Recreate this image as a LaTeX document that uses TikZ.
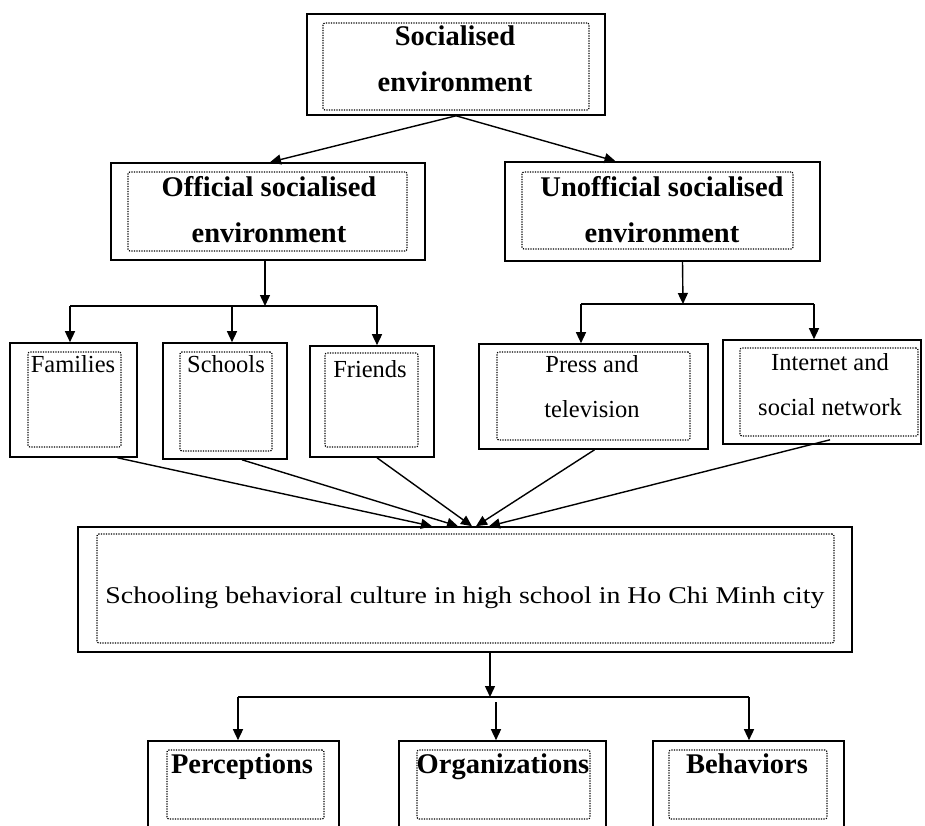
\documentclass[tikz,border=0pt]{standalone}
\usepackage{fontspec}
\setmainfont{Liberation Serif}
\newfontfamily\widefont[FakeStretch=1.16]{Liberation Serif}
\usetikzlibrary{arrows.meta}

\tikzset{
  box/.style={draw, line width=1.6pt, inner sep=0pt},
  frame/.style={draw, line width=1.2pt, dash pattern=on 1.2pt off 1.3pt, rounded corners=2pt, inner sep=0pt},
  headtxt/.style={font=\fontsize{28.5}{46}\selectfont\bfseries, align=center, anchor=base, inner sep=0pt},
  leaftxt/.style={font=\fontsize{24.5}{45}\selectfont, align=center, anchor=base, inner sep=0pt},
  arr/.style={line width=1.4pt, -{Triangle[length=11pt,width=10pt]}},
  link/.style={line width=1.4pt},
}

\begin{document}
\begin{tikzpicture}[x=1pt,y=1pt,yscale=-1]
\clip (0,0) rectangle (925,826);

% outer boxes
\node[box, minimum width=298, minimum height=101] (soc) at (456,64.5) {};
\node[box, minimum width=314, minimum height=97] (off) at (268,211.5) {};
\node[box, minimum width=315, minimum height=99] (unoff) at (662.5,211.5) {};
\node[box, minimum width=127, minimum height=114] (fam) at (73.5,400) {};
\node[box, minimum width=124, minimum height=116] (sch) at (225,401) {};
\node[box, minimum width=124, minimum height=111] (fri) at (372,401.5) {};
\node[box, minimum width=229, minimum height=105] (press) at (593.5,396.5) {};
\node[box, minimum width=198, minimum height=104] (inet) at (822,392) {};
\node[box, minimum width=774, minimum height=125] (sbc) at (465,589.5) {};
\node[box, minimum width=191, minimum height=119] (perc) at (243.5,800.5) {};
\node[box, minimum width=207, minimum height=119] (org) at (502.5,800.5) {};
\node[box, minimum width=191, minimum height=119] (beh) at (748.5,800.5) {};

% dotted frames
\node[frame, minimum width=266, minimum height=87] (soc-in) at (456,66.5) {};
\node[frame, minimum width=279, minimum height=79] (off-in) at (267.5,211.5) {};
\node[frame, minimum width=271, minimum height=77] (unoff-in) at (657.5,210.5) {};
\node[frame, minimum width=93, minimum height=95] (fam-in) at (74.5,399.5) {};
\node[frame, minimum width=92, minimum height=99] (sch-in) at (226,401.5) {};
\node[frame, minimum width=93, minimum height=94] (fri-in) at (371.5,400) {};
\node[frame, minimum width=193, minimum height=88] (press-in) at (593.5,396) {};
\node[frame, minimum width=178, minimum height=88] (inet-in) at (829,392) {};
\node[frame, minimum width=737, minimum height=109] (sbc-in) at (465.5,588.5) {};
\node[frame, minimum width=157, minimum height=69] (perc-in) at (245.5,784.5) {};
\node[frame, minimum width=173, minimum height=69] (org-in) at (503.5,784.5) {};
\node[frame, minimum width=158, minimum height=69] (beh-in) at (748,784.5) {};

% texts (base = last line)
\node[headtxt] (soc-t) at (455,92) {Socialised\\environment};
\node[headtxt] (off-t) at (269,242) {Official socialised\\environment};
\node[headtxt] (unoff-t) at (662,242) {Unofficial socialised\\environment};
\node[leaftxt] (fam-t) at (73,372) {Families};
\node[leaftxt] (sch-t) at (226,372) {Schools};
\node[leaftxt] (fri-t) at (370,377) {Friends};
\node[leaftxt] (press-t) at (592,417) {Press and\\television};
\node[leaftxt] (inet-t) at (830,415) {Internet and\\social network};
\node[leaftxt, font=\fontsize{24}{30}\widefont] (sbc-t) at (465,603) {Schooling behavioral culture in high school in Ho Chi Minh city};
\node[headtxt] (perc-t) at (242,773) {Perceptions};
\node[headtxt] (org-t) at (503,773) {Organizations};
\node[headtxt] (beh-t) at (747,773) {Behaviors};

% forks
\coordinate (offfork) at (265,306);
\coordinate (famtop) at (70,306);
\coordinate (schtop) at (232,306);
\coordinate (fritop) at (377,306);
\coordinate (unofffork) at (683,304);
\coordinate (presstop) at (581,304);
\coordinate (inettop) at (814,304);
\coordinate (sbcfork) at (490,697);
\coordinate (perctop) at (238,697);
\coordinate (orgtop) at (496,702);
\coordinate (behtop) at (749,697);

% connectors
\draw[arr] (soc.south) -- ([xshift=2pt]off.north);
\draw[arr] (soc.south) -- ([xshift=-47pt]unoff.north);
\draw[arr] ([xshift=-3pt]off.south) -- (offfork);
\draw[link] (famtop) -- (fritop);
\draw[arr] (famtop) -- (famtop |- fam.north);
\draw[arr] (schtop) -- (schtop |- sch.north);
\draw[arr] (fritop) -- (fritop |- fri.north);
\draw[arr] ([xshift=20pt]unoff.south) -- (unofffork);
\draw[link] (presstop) -- (inettop);
\draw[arr] (presstop) -- (presstop |- press.north);
\draw[arr] (inettop) -- (inettop |- inet.north);
\draw[arr] ([xshift=44pt]fam.south) -- ([xshift=-33pt]sbc.north);
\draw[arr] ([xshift=17pt]sch.south) -- ([xshift=-7pt]sbc.north);
\draw[arr] ([xshift=5pt]fri.south) -- ([xshift=7pt]sbc.north);
\draw[arr] ([xshift=1pt]press.south) -- ([xshift=11pt]sbc.north);
\draw[arr] ([xshift=8pt,yshift=-5pt]inet.south) -- ([xshift=24pt]sbc.north);
\draw[arr] ([xshift=25pt]sbc.south) -- (sbcfork);
\draw[link] (perctop) -- (behtop);
\draw[arr] (perctop) -- (perctop |- perc.north);
\draw[arr] (orgtop) -- (orgtop |- org.north);
\draw[arr] (behtop) -- (behtop |- beh.north);
\end{tikzpicture}
\end{document}
